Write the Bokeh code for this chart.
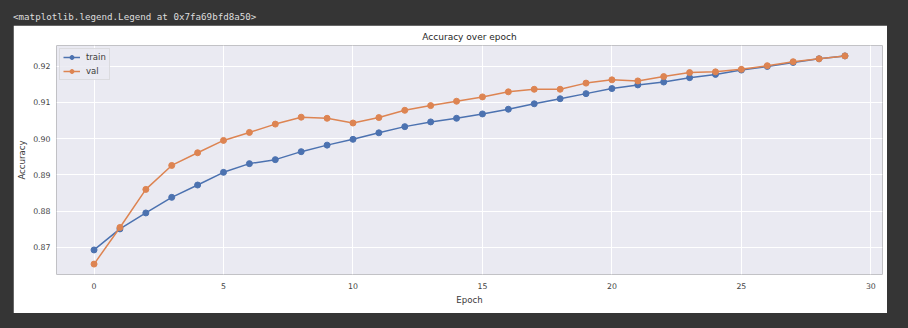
from bokeh.plotting import figure
from bokeh.models import (Range1d, SingleIntervalTicker, NumeralTickFormatter,
                          Div, Legend)
from bokeh.layouts import column
from bokeh.embed import file_html
from bokeh.resources import INLINE

try:
    from bokeh.models import GlobalInlineStyleSheet
except Exception:
    GlobalInlineStyleSheet = None

# ---- data ----
epochs = list(range(30))
train_acc = [0.8693, 0.8751, 0.8795, 0.8838, 0.8872, 0.8907, 0.8931, 0.8942,
             0.8964, 0.8982, 0.8998, 0.9016, 0.9033, 0.9046, 0.9056, 0.9068,
             0.9081, 0.9096, 0.9110, 0.9124, 0.9138, 0.9148, 0.9156, 0.9168,
             0.9177, 0.9189, 0.9199, 0.9210, 0.9220, 0.9228]
val_acc = [0.8654, 0.8755, 0.8860, 0.8926, 0.8961, 0.8995, 0.9017, 0.9040,
           0.9059, 0.9056, 0.9043, 0.9058, 0.9078, 0.9091, 0.9103, 0.9115,
           0.9129, 0.9136, 0.9136, 0.9153, 0.9162, 0.9159, 0.9171, 0.9182,
           0.9184, 0.9191, 0.9201, 0.9212, 0.9220, 0.9228]
series_names = ["train", "val"]
title_text = "Accuracy over epoch"
x_label = "Epoch"
y_label = "Accuracy"
header_text = "<matplotlib.legend.Legend at 0x7fa69bfd8a50>"

BLUE = "#4C72B0"
ORANGE = "#DD8452"
FONT = "DejaVu Sans"
TXT = "#3a3a3a"

# matplotlib-like 5% margins
xmin, xmax = min(epochs), max(epochs)
xpad = (xmax - xmin) * 0.05
allv = train_acc + val_acc
ymin, ymax = min(allv), max(allv)
ypad = (ymax - ymin) * 0.05

p = figure(width=874, height=288, output_backend="svg", toolbar_location=None,
           x_range=Range1d(xmin - xpad, xmax + xpad),
           y_range=Range1d(ymin - ypad, ymax + ypad),
           min_border_left=43, min_border_right=5, min_border_top=20,
           min_border_bottom=39)
p.margin = (0, 0, 0, 13)
p.border_fill_color = "white"
p.background_fill_color = "#EAEAF2"
p.outline_line_color = None

p.title.text = title_text
p.title.align = "center"
p.title.vertical_align = "bottom"
p.title.text_font = FONT
p.title.text_font_size = "9px"
p.title.text_font_style = "normal"
p.title.text_color = "#262626"
p.title.standoff = 8

p.xaxis.ticker = SingleIntervalTicker(interval=5)
p.yaxis.ticker = SingleIntervalTicker(interval=0.01)
p.yaxis.formatter = NumeralTickFormatter(format="0.00")
for ax in (p.xaxis, p.yaxis):
    ax.axis_line_color = None
    ax.major_tick_line_color = None
    ax.minor_tick_line_color = None
    ax.major_tick_out = 0
    ax.major_tick_in = 0
    ax.minor_tick_out = 0
    ax.minor_tick_in = 0
    ax.major_label_text_font = FONT
    ax.major_label_text_font_size = "7.8px"
    ax.major_label_text_color = "#444444"
    ax.axis_label_text_font = FONT
    ax.axis_label_text_font_size = "8.6px"
    ax.axis_label_text_font_style = "normal"
    ax.axis_label_text_color = TXT
p.xaxis.axis_label = x_label
p.yaxis.axis_label = y_label
p.xaxis.major_label_standoff = 8
p.yaxis.major_label_standoff = 6
p.xaxis.axis_label_standoff = 3
p.yaxis.axis_label_standoff = 3

p.xgrid.grid_line_color = "white"
p.ygrid.grid_line_color = "white"
p.xgrid.grid_line_width = 1
p.ygrid.grid_line_width = 1

r1 = p.line(epochs, train_acc, line_color=BLUE, line_width=1.5)
s1 = p.scatter(epochs, train_acc, marker="circle", size=6, fill_color=BLUE,
               line_color=BLUE)
r2 = p.line(epochs, val_acc, line_color=ORANGE, line_width=1.5)
s2 = p.scatter(epochs, val_acc, marker="circle", size=6, fill_color=ORANGE,
               line_color=ORANGE)

legend = Legend(items=[(series_names[0], [r1, s1]), (series_names[1], [r2, s2])],
                location="top_left")
legend.margin = 3
legend.padding = 3
legend.spacing = 4
legend.glyph_width = 17
legend.glyph_height = 10
legend.label_height = 10
legend.label_standoff = 6
legend.label_text_font = FONT
legend.label_text_font_size = "8.5px"
legend.label_text_color = TXT
legend.background_fill_color = "#EAEAF2"
legend.background_fill_alpha = 0.85
legend.border_line_color = "#cccccc"
legend.border_line_width = 1
p.add_layout(legend)

header = Div(text=header_text, render_as_text=True, width=400, height=17,
             styles={"font-family": "DejaVu Sans Mono", "font-size": "9.2px",
                     "color": "#dddddd", "line-height": "17px",
                     "white-space": "nowrap"})
header.margin = (0, 0, 0, 13)

layout = column(header, p, spacing=0)
layout.margin = (8, 0, 0, 0)
layout.styles = {"background-color": "#353535"}
if GlobalInlineStyleSheet is not None:
    layout.stylesheets = [GlobalInlineStyleSheet(
        css="html, body { background-color: #353535 !important; }")]

open("out.html", "w").write(file_html(layout, INLINE))
